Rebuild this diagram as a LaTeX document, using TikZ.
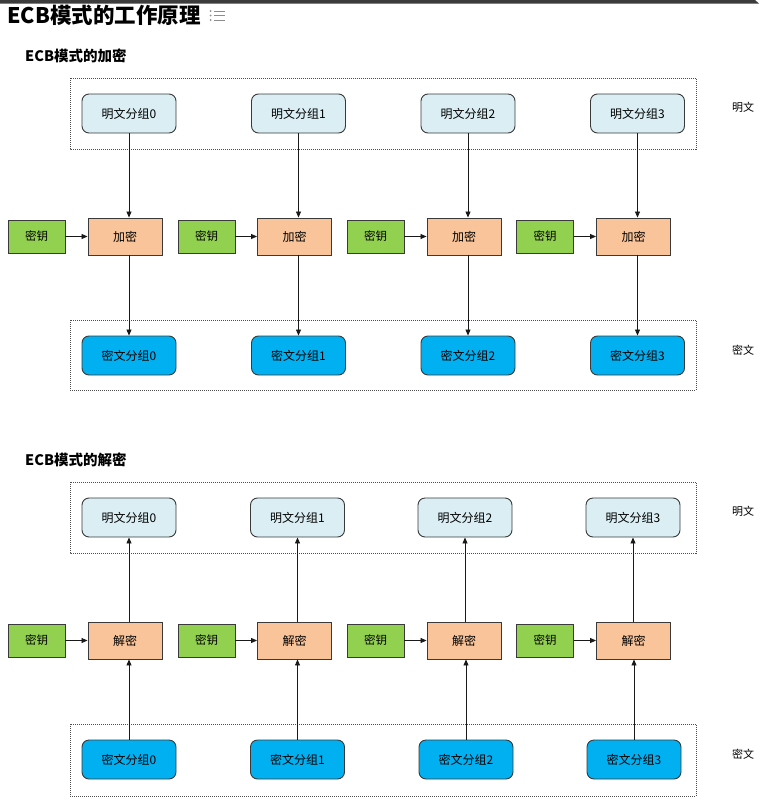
\documentclass[tikz,border=0pt]{standalone}
\usepackage{fontspec}
\newfontfamily\cjk{Noto Sans CJK SC}
\usetikzlibrary{arrows.meta}
\definecolor{ptfill}{HTML}{DAEEF3}
\definecolor{ctfill}{HTML}{00B0F0}
\definecolor{keyfill}{HTML}{92D050}
\definecolor{encfill}{HTML}{F9C499}
\definecolor{edgecol}{HTML}{3A3A3A}
\definecolor{barcol}{HTML}{3C3C3C}
\begin{document}
\begin{tikzpicture}[x=1pt,y=-1pt,
  every node/.style={font=\cjk\fontsize{12}{14}\selectfont, inner sep=0pt, text=black},
  ptbox/.style={draw=edgecol, line width=0.9pt, fill=ptfill, rounded corners=7pt, minimum width=94pt, minimum height=39pt},
  ctbox/.style={draw=edgecol, line width=0.9pt, fill=ctfill, rounded corners=7pt, minimum width=94pt, minimum height=39pt},
  keybox/.style={draw=edgecol, line width=0.9pt, fill=keyfill, minimum width=57pt, minimum height=33pt, font=\cjk\fontsize{11.5}{14}\selectfont},
  encbox/.style={draw=edgecol, line width=0.9pt, fill=encfill, minimum width=74pt, minimum height=37pt},
  groupbox/.style={draw=black!70, line width=0.8pt, dash pattern=on 1pt off 1pt},
  arr/.style={draw=black!90, line width=0.8pt, -{Triangle[length=6pt,width=5pt]}},
  sidelabel/.style={font=\cjk\fontsize{11}{13}\selectfont},
  sectitle/.style={anchor=west, font=\cjk\bfseries\fontsize{14.5}{16}\selectfont}
]
\useasboundingbox (0,0) rectangle (761,803);
% top bar
\fill[barcol] (0,0) -- (755,0) -- (759,3.5) -- (0,3.5) -- cycle;
% title
\node[anchor=west, font=\cjk\bfseries\fontsize{21.5}{24}\selectfont] (title) at (7,15) {ECB模式的工作原理};
% list icon
\foreach \yy in {11,15.5,20}{
  \fill[black!45] (210.5,\yy) circle (1pt);
  \draw[black!45, line width=0.9pt] (214,\yy) -- (225,\yy);
}
% ===== encryption =====
\node[sectitle] (enctitle) at (25,56) {ECB模式的加密};
\draw[groupbox] (70,78) rectangle (696,149);
\draw[groupbox] (70,320) rectangle (696,390);
\node[sidelabel] (lpa) at (743,107) {明文};
\node[sidelabel] (lca) at (743,350) {密文};
\foreach \i/\px/\ex/\kx in {0/129/125/36.5, 1/298.5/294.5/206.5, 2/468/464/375.5, 3/637.5/633.5/545}{
  \node[ptbox] (pa\i) at (\px,113.5) {明文分组\i};
  \node[encbox] (ea\i) at (\ex,236.5) {加密};
  \node[keybox] (ka\i) at (\kx,236.5) {密钥};
  \node[ctbox] (ca\i) at (\px,355.5) {密文分组\i};
  \draw[arr] (pa\i.south) -- (pa\i.south |- ea\i.north);
  \draw[arr] (ca\i.north |- ea\i.south) -- (ca\i.north);
  \draw[arr] (ka\i.east) -- (ea\i.west);
}
% ===== decryption =====
\node[sectitle] (dectitle) at (25,460) {ECB模式的解密};
\draw[groupbox] (70,482) rectangle (696,553);
\draw[groupbox] (70,724) rectangle (696,796);
\node[sidelabel] (lpb) at (743,511) {明文};
\node[sidelabel] (lcb) at (743,754) {密文};
\foreach \i/\px/\cx/\ex/\kx in {0/129/129/125/36.5, 1/297.5/297.5/294.5/206.5, 2/465/466/464/375.5, 3/633/634/633.5/545}{
  \node[ptbox] (pb\i) at (\px,517.5) {明文分组\i};
  \node[encbox] (db\i) at (\ex,640.5) {解密};
  \node[keybox] (kb\i) at (\kx,640.5) {密钥};
  \node[ctbox] (cb\i) at (\cx,759.5) {密文分组\i};
  \draw[arr] (cb\i.north) -- (cb\i.north |- db\i.south);
  \draw[arr] (pb\i.south |- db\i.north) -- (pb\i.south);
  \draw[arr] (kb\i.east) -- (db\i.west);
}
\end{tikzpicture}
\end{document}
